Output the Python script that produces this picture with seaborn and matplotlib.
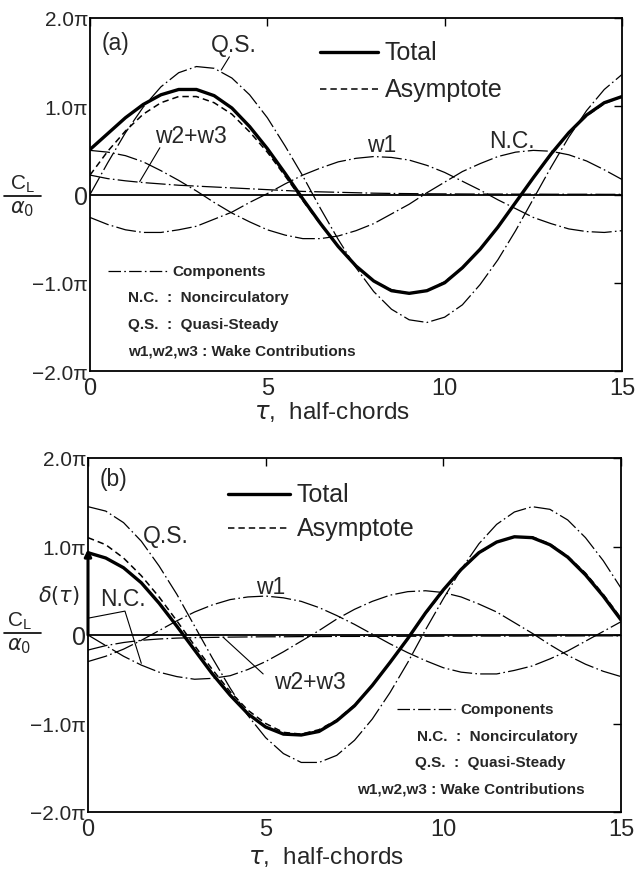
import matplotlib
matplotlib.use("Agg")
import matplotlib.pyplot as plt
import matplotlib.transforms as mtransforms
import seaborn as sns
import pandas as pd
from matplotlib.lines import Line2D

# time in half-chords
tau = [0.0, 0.5, 1.0, 1.5, 2.0, 2.5, 3.0, 3.5, 4.0, 4.5, 5.0, 5.5, 6.0, 6.5, 7.0, 7.5,
       8.0, 8.5, 9.0, 9.5, 10.0, 10.5, 11.0, 11.5, 12.0, 12.5, 13.0, 13.5, 14.0, 14.5, 15.0]

# ---- (a) lift response, values in units of pi ----
total_a = [0.51, 0.69, 0.87, 1.02, 1.13, 1.19, 1.19, 1.12, 0.98, 0.77, 0.52, 0.24, -0.05, -0.33, -0.59, -0.81,
           -0.98, -1.09, -1.12, -1.09, -1.00, -0.83, -0.62, -0.37, -0.09, 0.19, 0.46, 0.70, 0.90, 1.04, 1.11]
asym_a = [0.22, 0.49, 0.72, 0.91, 1.04, 1.11, 1.11, 1.04, 0.91, 0.71, 0.48, 0.21, -0.07, -0.34, -0.59, -0.81,
          -0.98, -1.08, -1.12, -1.09, -0.99, -0.83, -0.62, -0.37, -0.09, 0.19, 0.45, 0.70, 0.89, 1.03, 1.11]
qs_a = [0.00, 0.36, 0.70, 0.99, 1.22, 1.38, 1.45, 1.43, 1.32, 1.13, 0.87, 0.55, 0.21, -0.16, -0.51, -0.83,
        -1.10, -1.30, -1.42, -1.45, -1.39, -1.25, -1.02, -0.74, -0.41, -0.05, 0.31, 0.65, 0.95, 1.19, 1.36]
nc_a = [0.50, 0.48, 0.44, 0.37, 0.27, 0.16, 0.04, -0.09, -0.21, -0.31, -0.40, -0.46, -0.50, -0.50, -0.47, -0.41,
        -0.33, -0.22, -0.11, 0.02, 0.14, 0.26, 0.35, 0.43, 0.48, 0.50, 0.49, 0.45, 0.38, 0.28, 0.17]
w1_a = [-0.26, -0.34, -0.40, -0.43, -0.43, -0.40, -0.36, -0.28, -0.20, -0.09, 0.01, 0.12, 0.22, 0.30, 0.37, 0.41,
        0.43, 0.42, 0.39, 0.33, 0.25, 0.15, 0.05, -0.06, -0.16, -0.26, -0.33, -0.39, -0.42, -0.43, -0.41]
w23_a = [0.22, 0.18, 0.155, 0.135, 0.12, 0.105, 0.095, 0.085, 0.075, 0.065, 0.055, 0.045, 0.035, 0.03, 0.025, 0.02,
         0.015, 0.012, 0.01, 0.008, 0.007, 0.006, 0.005, 0.005, 0.004, 0.004, 0.003, 0.003, 0.003, 0.002, 0.002]

# ---- (b) lift response, values in units of pi ----
total_b = [0.93, 0.87, 0.76, 0.59, 0.36, 0.10, -0.17, -0.44, -0.68, -0.89, -1.04, -1.12, -1.13, -1.09, -0.97, -0.80,
           -0.57, -0.31, -0.04, 0.25, 0.51, 0.74, 0.93, 1.05, 1.11, 1.10, 1.02, 0.88, 0.68, 0.44, 0.17]
asym_b = [1.10, 1.02, 0.87, 0.67, 0.43, 0.16, -0.12, -0.39, -0.64, -0.85, -1.00, -1.10, -1.12, -1.07, -0.96, -0.79,
          -0.57, -0.31, -0.04, 0.24, 0.50, 0.74, 0.92, 1.05, 1.11, 1.11, 1.03, 0.89, 0.70, 0.46, 0.19]
qs_b = [1.45, 1.40, 1.27, 1.06, 0.78, 0.46, 0.10, -0.26, -0.60, -0.91, -1.16, -1.34, -1.44, -1.44, -1.36, -1.19,
        -0.95, -0.65, -0.31, 0.06, 0.41, 0.74, 1.03, 1.25, 1.39, 1.45, 1.42, 1.30, 1.10, 0.84, 0.53]
nc_b = [0.00, -0.12, -0.24, -0.34, -0.42, -0.47, -0.50, -0.49, -0.46, -0.39, -0.30, -0.19, -0.07, 0.05, 0.18, 0.29,
        0.38, 0.45, 0.49, 0.50, 0.48, 0.43, 0.35, 0.26, 0.14, 0.02, -0.11, -0.23, -0.33, -0.41, -0.47]
w1_b = [-0.30, -0.24, -0.16, -0.06, 0.05, 0.16, 0.26, 0.34, 0.40, 0.43, 0.44, 0.42, 0.38, 0.31, 0.22, 0.12,
        0.01, -0.10, -0.20, -0.29, -0.37, -0.42, -0.44, -0.44, -0.40, -0.35, -0.27, -0.18, -0.07, 0.04, 0.15]
w23_b = [-0.17, -0.12, -0.085, -0.06, -0.045, -0.035, -0.03, -0.027, -0.024, -0.022, -0.02, -0.02, -0.018, -0.018,
         -0.016, -0.016, -0.015, -0.015, -0.014, -0.014, -0.013, -0.013, -0.012, -0.012, -0.012, -0.011, -0.011,
         -0.011, -0.010, -0.010, -0.010]
delta_height = 0.97   # impulse marker at tau = 0 in (b)

x_ticks = [0, 5, 10, 15]
x_ticklabels = ["0", "5", "10", "15"]
y_ticks = [-2, -1, 0, 1, 2]
y_ticklabels = ["\u22122.0\u03c0", "\u22121.0\u03c0", "0", "1.0\u03c0", "2.0\u03c0"]

sns.set_theme(style="white")
FAM = ["Liberation Sans", "DejaVu Sans"]
plt.rcParams["font.family"] = FAM
plt.rcParams["mathtext.fontset"] = "dejavusans"

DASHDOT = (0, (16, 2.6, 1.3, 2.6))
DASHED = (0, (4.2, 2.6))


def draw_curves(ax, df):
    comp_kw = dict(color="black", lw=0.9, linestyle=DASHDOT, estimator=None, legend=False, ax=ax)
    for col in ["qs", "nc", "w1", "w23"]:
        sns.lineplot(data=df, x="tau", y=col, **comp_kw)
    sns.lineplot(data=df, x="tau", y="asym", color="black", lw=1.1, linestyle=DASHED,
                 estimator=None, legend=False, ax=ax)
    sns.lineplot(data=df, x="tau", y="total", color="black", lw=2.4, estimator=None,
                 legend=False, ax=ax)
    ax.axhline(0, color="black", lw=1.3, zorder=1)


def shift(text, fig, dx_px, dy_px):
    text.set_transform(text.get_transform() +
                       mtransforms.ScaledTranslation(dx_px / 100, dy_px / 100, fig.dpi_scale_trans))


def style_axes(ax, fig):
    ax.set_xlim(0, 15)
    ax.set_ylim(-2, 2)
    ax.set_xticks(x_ticks)
    ax.set_xticklabels(x_ticklabels, fontsize=17)
    ax.set_yticks(y_ticks)
    ax.set_yticklabels(y_ticklabels, fontsize=15)
    ylabels = ax.get_yticklabels()
    for lbl in ylabels:
        if lbl.get_text() == "0":
            lbl.set_fontsize(18)
    # corner labels: keep the bottom "-2.0pi" clear of the "0" under the origin
    shift(ylabels[0], fig, -2, 6)
    shift(ax.get_xticklabels()[0], fig, 5, 0)
    ax.tick_params(axis="both", which="both", direction="in", length=6, width=1.0,
                   top=True, right=True, color="black")
    ax.tick_params(axis="y", pad=1.5)
    ax.tick_params(axis="x", pad=4)
    ax.set_xlabel("")
    ax.set_ylabel("")
    for sp in ax.spines.values():
        sp.set_visible(True)
        sp.set_color("black")
        sp.set_linewidth(1.3)
    ax.grid(False)


def key_line(ax, x0, x1, y, **kw):
    ax.add_line(Line2D([x0, x1], [y, y], transform=ax.transAxes, color="black", **kw))


def legends(ax, tot_x, tot_y, asy_y, comp_x, comp_y, nc_y, qs_y, w_y, nc_x, qs_x, w_x):
    key_line(ax, tot_x[0], tot_x[1], tot_y, lw=2.4)
    key_line(ax, tot_x[0], tot_x[1], asy_y, lw=1.1, linestyle=DASHED)
    ax.text(tot_x[1] + 0.013, tot_y, "Total", transform=ax.transAxes, fontsize=18, va="center")
    ax.text(tot_x[1] + 0.013, asy_y, "Asymptote", transform=ax.transAxes, fontsize=18, va="center")
    key_line(ax, comp_x[0], comp_x[1], comp_y, lw=0.9, linestyle=(0, (10, 2.6, 1.3, 2.6)))
    bold = dict(transform=ax.transAxes, fontsize=11, fontweight="bold", va="center")
    ax.text(comp_x[1] + 0.009, comp_y, "Components", **bold)
    ax.text(nc_x, nc_y, "N.C.  :  Noncirculatory", **bold)
    ax.text(qs_x, qs_y, "Q.S.  :  Quasi-Steady", **bold)
    ax.text(w_x, w_y, "w1,w2,w3 : Wake Contributions", **bold)


def ylabel_fraction(fig, xc, y_top, y_bar, y_bot):
    fig.text(xc / 635, 1 - y_top / 870, r"$\mathregular{C_L}$", fontsize=15, ha="center", va="center")
    fig.add_artist(Line2D([4 / 635, 41 / 635], [1 - y_bar / 870, 1 - y_bar / 870],
                          color="black", lw=1.2, transform=fig.transFigure))
    fig.text(xc / 635, 1 - y_bot / 870, r"$\alpha_0$", fontsize=15, ha="center", va="center")


df_a = pd.DataFrame({"tau": tau, "total": total_a, "asym": asym_a, "qs": qs_a,
                     "nc": nc_a, "w1": w1_a, "w23": w23_a})
df_b = pd.DataFrame({"tau": tau, "total": total_b, "asym": asym_b, "qs": qs_b,
                     "nc": nc_b, "w1": w1_b, "w23": w23_b})

fig = plt.figure(figsize=(6.35, 8.70), dpi=100)
ax_a = fig.add_axes([90 / 635, 1 - 372 / 870, 532 / 635, 353 / 870])
ax_b = fig.add_axes([88 / 635, 1 - 813 / 870, 533 / 635, 354 / 870])

# ---------------- (a) ----------------
draw_curves(ax_a, df_a)
style_axes(ax_a, fig)
lab = dict(fontsize=16.5, ha="center", va="center")
ax_a.text(0.73, 1.72, "(a)", **lab)
ax_a.text(4.05, 1.70, "Q.S.", **lab)
ax_a.plot([3.93, tau[7] + 0.2], [1.56, qs_a[7] - 0.02], color="black", lw=0.8)
ax_a.text(2.85, 0.67, "w2+w3", **lab)
ax_a.plot([1.97, tau[3] - 0.1], [0.53, w23_a[3] + 0.01], color="black", lw=0.8)
ax_a.text(8.23, 0.57, "w1", **lab)
ax_a.text(11.9, 0.61, "N.C.", **lab)
legends(ax_a, (0.432, 0.541), 0.904, 0.799, (0.034, 0.145), 0.283,
        0.210, 0.133, 0.057, 0.071, 0.071, 0.071)
fig.text(332 / 635, 1 - 412 / 870, r"$\tau$,  half-chords", fontsize=17.5, ha="center", va="center")
ylabel_fraction(fig, 22, 184, 197, 209)

# ---------------- (b) ----------------
draw_curves(ax_b, df_b)
style_axes(ax_b, fig)
ax_b.annotate("", xy=(0, delta_height), xytext=(0, 0),
              arrowprops=dict(arrowstyle="-|>", lw=2.2, color="black", mutation_scale=10,
                              shrinkA=0, shrinkB=0), annotation_clip=False)
ax_b.text(0.73, 1.77, "(b)", **lab)
ax_b.text(2.2, 1.12, "Q.S.", **lab)
ax_b.text(5.13, 0.55, "w1", **lab)
ax_b.text(0.99, 0.41, "N.C.", **lab)
ax_b.plot([0.0, 1.04, tau[3]], [0.19, 0.27, nc_b[3] + 0.02], color="black", lw=0.8, clip_on=False)
ax_b.text(6.25, -0.52, "w2+w3", **lab)
ax_b.plot([tau[8] - 0.2, 4.93], [w23_b[8], -0.44], color="black", lw=0.8)
ax_b.text(-0.82, 0.46, r"$\delta(\tau)$", fontsize=15, ha="center", va="center", clip_on=False)
legends(ax_b, (0.263, 0.379), 0.898, 0.802, (0.580, 0.689), 0.291,
        0.215, 0.141, 0.065, 0.617, 0.613, 0.505)
fig.text(326 / 635, 1 - 857 / 870, r"$\tau$,  half-chords", fontsize=17.5, ha="center", va="center")
ylabel_fraction(fig, 19, 621, 634, 646)

fig.savefig("out.png", dpi=100)
